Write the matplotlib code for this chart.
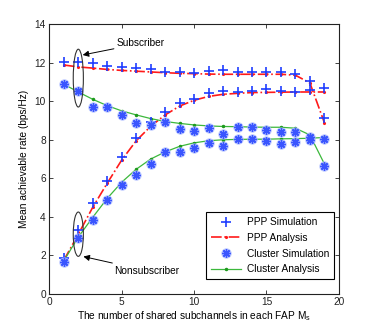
import matplotlib
matplotlib.use("Agg")
import matplotlib.pyplot as plt
from matplotlib.patches import Ellipse
import numpy as np

plt.rcParams['font.family'] = ['Liberation Sans', 'DejaVu Sans']
plt.rcParams['mathtext.default'] = 'regular'

x = list(range(1, 20))

# Subscriber (upper) curves
ppp_sim_sub = [12.03, 12.03, 11.97, 11.83, 11.76, 11.74, 11.66, 11.54, 11.54, 11.49,
               11.59, 11.62, 11.50, 11.50, 11.54, 11.50, 11.40, 11.07, 9.12]
ppp_ana_sub = [11.88, 11.78, 11.72, 11.65, 11.60, 11.56, 11.52, 11.48, 11.45, 11.43,
               11.41, 11.40, 11.40, 11.40, 11.40, 11.40, 11.35, 10.95, 8.89]
clu_sim_sub = [10.91, 10.55, 9.69, 9.69, 9.31, 8.87, 8.77, 8.94, 8.56, 8.48,
               8.61, 8.30, 8.68, 8.65, 8.51, 8.39, 8.39, 8.13, 8.03]
clu_ana_sub = [10.88, 10.48, 10.10, 9.77, 9.50, 9.29, 9.10, 8.95, 8.85, 8.77,
               8.72, 8.69, 8.68, 8.66, 8.65, 8.65, 8.60, 8.25, 6.75]

# Nonsubscriber (lower) curves
ppp_sim_non = [1.85, 3.32, 4.70, 5.86, 7.13, 8.08, 8.94, 9.43, 9.93, 10.10,
               10.45, 10.55, 10.50, 10.53, 10.64, 10.55, 10.50, 10.59, 10.67]
ppp_ana_non = [1.75, 3.10, 4.50, 5.75, 6.95, 7.95, 8.70, 9.29, 9.75, 10.05,
               10.25, 10.36, 10.41, 10.45, 10.46, 10.47, 10.48, 10.48, 10.48]
clu_sim_non = [1.68, 2.92, 3.84, 4.88, 5.66, 6.18, 6.76, 7.35, 7.39, 7.56,
               7.82, 7.68, 8.02, 8.03, 7.96, 7.78, 7.91, 7.99, 6.66]
clu_ana_non = [1.72, 2.95, 3.98, 4.96, 5.80, 6.47, 7.00, 7.37, 7.66, 7.84,
               7.95, 8.00, 8.02, 8.03, 8.03, 8.05, 8.06, 8.08, 8.12]

xticks = [0, 5, 10, 15, 20]
yticks = [0, 2, 4, 6, 8, 10, 12, 14]

fig = plt.figure(figsize=(3.74, 3.31), dpi=100)
ax = fig.add_axes([0.132, 0.112, 0.774, 0.815])

blue = '#1f3dff'
red = '#ff1a1a'
green = '#3cb83c'

# PPP analysis
ax.plot(x, ppp_ana_sub, linestyle='-.', color=red, lw=1.2, marker='.', ms=2.5, zorder=2)
ax.plot(x, ppp_ana_non, linestyle='-.', color=red, lw=1.2, marker='.', ms=2.5, zorder=2)
# Cluster analysis
ax.plot(x, clu_ana_sub, linestyle='-', color=green, lw=0.9, marker='.', ms=3, mfc='#1e9a1e', mec='#1e9a1e', zorder=2)
ax.plot(x, clu_ana_non, linestyle='-', color=green, lw=0.9, marker='.', ms=3, mfc='#1e9a1e', mec='#1e9a1e', zorder=2)
# PPP simulation
ax.plot(x, ppp_sim_sub, linestyle='none', marker='+', ms=7, mew=1.2, color=blue, zorder=3)
ax.plot(x, ppp_sim_non, linestyle='none', marker='+', ms=7, mew=1.2, color=blue, zorder=3)
# Cluster simulation (halo + asterisk)
for ys in (clu_sim_sub, clu_sim_non):
    ax.plot(x, ys, linestyle='none', marker='o', ms=6.5, color='#a9b8ff', alpha=0.8, zorder=3)
    ax.plot(x, ys, linestyle='none', marker=(8, 2, 0), ms=6, mew=1.0, color='#3a55ff', zorder=4)

# Legend handles
h1, = ax.plot([], [], linestyle='none', marker='+', ms=7, mew=1.2, color=blue)
h2, = ax.plot([], [], linestyle='-.', color=red, lw=1.2, marker='.', ms=2.5)
h3a, = ax.plot([], [], linestyle='none', marker='o', ms=6.5, color='#a9b8ff', alpha=0.8)
h3b, = ax.plot([], [], linestyle='none', marker=(8, 2, 0), ms=6, mew=1.0, color='#3a55ff')
h4, = ax.plot([], [], linestyle='-', color=green, lw=0.9, marker='.', ms=3, mfc='#1e9a1e', mec='#1e9a1e')
leg = ax.legend([h1, h2, (h3a, h3b), h4],
                ['PPP Simulation', 'PPP Analysis', 'Cluster Simulation', 'Cluster Analysis'],
                loc='lower right', bbox_to_anchor=(0.984, 0.0545), borderaxespad=0,
                fontsize=7.3, handlelength=2.9, labelspacing=0.55, fancybox=False,
                framealpha=1, edgecolor='black', borderpad=0.5, handletextpad=0.6,
                markerfirst=True)
leg.get_frame().set_linewidth(0.8)

# Ellipses and annotations
ax.add_patch(Ellipse((2.0, 11.2), 0.7, 3.0, fill=False, edgecolor='#333333', lw=0.8, zorder=5))
ax.add_patch(Ellipse((2.0, 3.1), 0.7, 2.3, fill=False, edgecolor='#333333', lw=0.8, zorder=5))
ax.annotate('Subscriber', xy=(2.3, 12.4), xytext=(4.65, 13.0), fontsize=7.3,
            va='center', ha='left',
            arrowprops=dict(arrowstyle='-|>', color='black', lw=0.7, mutation_scale=9,
                            shrinkA=0, shrinkB=0))
ax.annotate('Nonsubscriber', xy=(2.35, 1.94), xytext=(4.5, 1.2), fontsize=7.3,
            va='center', ha='left',
            arrowprops=dict(arrowstyle='-|>', color='black', lw=0.7, mutation_scale=9,
                            shrinkA=0, shrinkB=0))

ax.set_xlim(0, 20)
ax.set_ylim(0, 14)
ax.set_xticks(xticks)
ax.set_yticks(yticks)
ax.tick_params(direction='in', length=3, width=0.6, top=True, right=True,
               labelsize=7.3, pad=2.5, colors='#222222')
for s in ax.spines.values():
    s.set_linewidth(0.8)
    s.set_color('#222222')

ax.set_xlabel('The number of shared subchannels in each FAP M$_s$', fontsize=7.3, labelpad=1)
ax.set_ylabel('Mean achievable rate (bps/Hz)', fontsize=7.3, labelpad=4)

fig.savefig('out.png', dpi=100)
